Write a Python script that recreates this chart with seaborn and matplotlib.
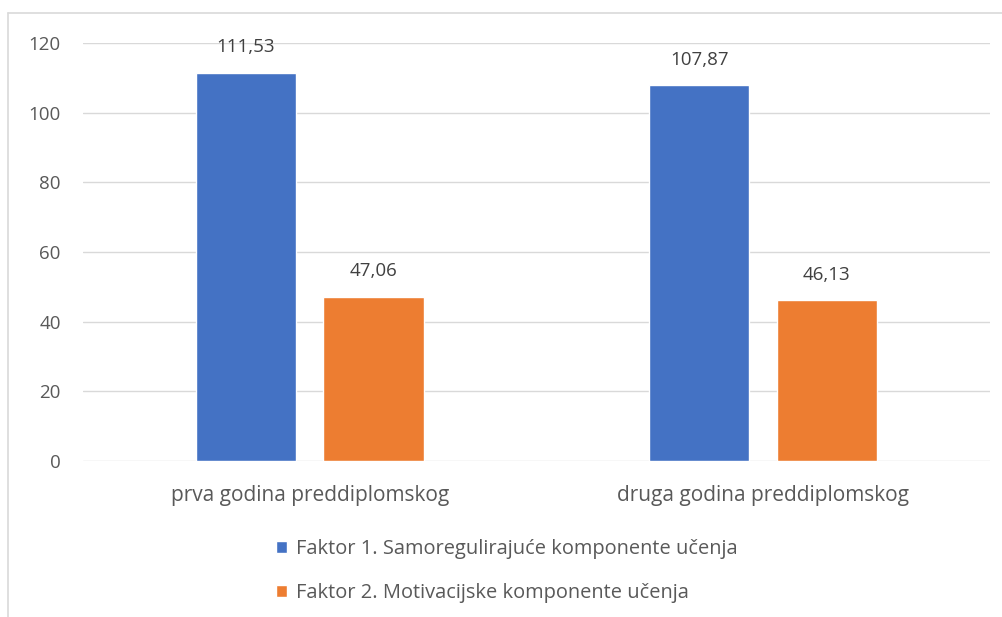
import numpy as np
import pandas as pd
import matplotlib
matplotlib.use("Agg")
from matplotlib import pyplot as plt
from matplotlib.lines import Line2D
import seaborn as sns

# podaci
kategorije = ['prva godina preddiplomskog', 'druga godina preddiplomskog']
faktori = ['Faktor 1. Samoregulirajuće komponente učenja',
           'Faktor 2. Motivacijske komponente učenja']
faktor1 = [111.53, 107.87]
faktor2 = [47.06, 46.13]
boje = ['#4472C4', '#ED7D31']

df = pd.DataFrame({
    'godina': kategorije * 2,
    'faktor': [faktori[0]] * 2 + [faktori[1]] * 2,
    'vrijednost': faktor1 + faktor2,
})

sns.set_style("white")
plt.rcParams['font.family'] = ['Open Sans', 'DejaVu Sans']

fig = plt.figure(figsize=(10.02, 6.17), dpi=100)
ax = fig.add_axes([0.0828, 0.2528, 0.905, 0.6775])

sns.barplot(data=df, x='godina', y='vrijednost', hue='faktor',
            palette=boje, saturation=1, width=0.563, gap=0.215, ax=ax)

ax.set_ylim(0, 120)
ax.set_yticks(range(0, 121, 20))
ax.set_xlabel('')
ax.set_ylabel('')
ax.grid(axis='y', color='#d9d9d9', linewidth=1)
ax.set_axisbelow(True)
for s in ax.spines.values():
    s.set_visible(False)
ax.tick_params(axis='both', length=0, colors='#595959')
ax.tick_params(axis='y', pad=16, labelsize=13.5)
ax.tick_params(axis='x', pad=17, labelsize=15)

# oznake vrijednosti s decimalnim zarezom
for cont in ax.containers:
    ax.bar_label(cont, labels=[f'{v:.2f}'.replace('.', ',') for v in cont.datavalues],
                 padding=12, color='#404040', fontsize=13.5)

leg = ax.legend(loc='upper left', bbox_to_anchor=(0.2754, 0.1265),
                bbox_transform=fig.transFigure, frameon=False, ncol=1,
                borderpad=0, borderaxespad=0,
                handlelength=0.55, handleheight=0.55, handletextpad=0.45,
                labelspacing=1.2, fontsize=14.4)
for t in leg.get_texts():
    t.set_color('#595959')

# okvir grafikona (odrezan desno i dolje)
fig.add_artist(Line2D([8 / 1002, 1], [1 - 13 / 617, 1 - 13 / 617],
                      color='#d9d9d9', linewidth=1.2))
fig.add_artist(Line2D([8 / 1002, 8 / 1002], [0, 1 - 13 / 617],
                      color='#d9d9d9', linewidth=1.2))

fig.savefig('out.png', dpi=100)
